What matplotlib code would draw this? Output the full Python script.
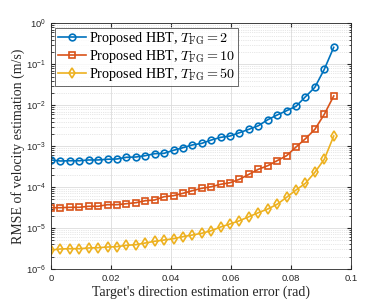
import numpy as np
import matplotlib
matplotlib.use("Agg")
import matplotlib.pyplot as plt
from matplotlib.ticker import LogLocator, NullFormatter

# ---- data ----
x_err = np.arange(31) * np.pi / 1000  # direction estimation error (rad)

rmse_fg2 = [4.6e-4, 4.34e-4, 4.4e-4, 4.4e-4, 4.6e-4, 4.6e-4, 4.78e-4, 4.86e-4,
            5.35e-4, 5.43e-4, 5.85e-4, 6.54e-4, 6.68e-4, 7.92e-4, 9.17e-4,
            1.07e-3, 1.17e-3, 1.41e-3, 1.64e-3, 1.77e-3, 2.13e-3, 2.58e-3,
            3.15e-3, 4.42e-3, 5.77e-3, 7.34e-3, 9.40e-3, 1.61e-2, 2.74e-2,
            7.53e-2, 0.259]
rmse_fg10 = [3.14e-5, 3.14e-5, 3.21e-5, 3.21e-5, 3.40e-5, 3.40e-5, 3.72e-5,
             3.72e-5, 3.93e-5, 4.16e-5, 4.65e-5, 4.84e-5, 5.83e-5, 6.17e-5,
             7.06e-5, 8.17e-5, 9.35e-5, 1.02e-4, 1.17e-4, 1.28e-4, 1.55e-4,
             2.05e-4, 2.72e-4, 3.33e-4, 4.42e-4, 5.85e-4, 9.53e-4, 1.52e-3,
             2.58e-3, 6.0e-3, 1.68e-2]
rmse_fg50 = [2.91e-6, 3.08e-6, 3.13e-6, 3.13e-6, 3.26e-6, 3.31e-6, 3.44e-6,
             3.51e-6, 3.79e-6, 3.92e-6, 4.31e-6, 4.75e-6, 5.10e-6, 5.49e-6,
             6.15e-6, 6.76e-6, 7.45e-6, 8.61e-6, 1.06e-5, 1.26e-5, 1.51e-5,
             1.89e-5, 2.37e-5, 2.92e-5, 3.80e-5, 5.64e-5, 8.50e-5, 1.24e-4,
             2.30e-4, 4.78e-4, 1.77e-3]

labels = [r'Proposed HBT, $T_{\mathrm{FG}}=2$',
          r'Proposed HBT, $T_{\mathrm{FG}}=10$',
          r'Proposed HBT, $T_{\mathrm{FG}}=50$']
series = [rmse_fg2, rmse_fg10, rmse_fg50]
colors = ['#0072BD', '#D95319', '#EDB120']
markers = ['o', 's', 'd']

xticks = [0, 0.02, 0.04, 0.06, 0.08, 0.1]
xticklabels = ['0', '0.02', '0.04', '0.06', '0.08', '0.1']

plt.rcParams['mathtext.fontset'] = 'cm'
plt.rcParams['font.family'] = ['Liberation Sans', 'DejaVu Sans']

fig = plt.figure(figsize=(3.88, 3.02), dpi=100)
ax = fig.add_axes([0.1314, 0.1093, 0.7732, 0.8135])

for y, c, m, lab in zip(series, colors, markers, labels):
    ax.plot(x_err, y, color=c, marker=m, markersize=4.8, markerfacecolor='none',
            markeredgewidth=1.2, linewidth=1.2, label=lab)

ax.set_yscale('log')
ax.set_xlim(0, 0.1)
ax.set_ylim(1e-6, 1e0)
ax.set_xticks(xticks)
ax.set_xticklabels(xticklabels)
ax.yaxis.set_major_locator(LogLocator(base=10, numticks=10))
ax.yaxis.set_minor_locator(LogLocator(base=10, subs=np.arange(2, 10), numticks=20))
ax.yaxis.set_minor_formatter(NullFormatter())

ax.grid(True, which='major', color='#dcdcdc', linewidth=0.6, linestyle='-')
ax.grid(True, which='minor', axis='y', color='#d0d0d0', linewidth=0.5, linestyle=':')
ax.set_axisbelow(True)

ax.tick_params(which='both', direction='in', top=True, right=True,
               labelsize=6.8, colors='#262626', pad=3.5)
ax.tick_params(which='major', length=3)
ax.tick_params(which='minor', length=1.8)
for s in ax.spines.values():
    s.set_color('#262626')
    s.set_linewidth(0.6)

ax.set_xlabel("Target's direction estimation error (rad)", fontfamily='Liberation Serif',
              fontsize=10, color='#262626', labelpad=2)
ax.set_ylabel("RMSE of velocity estimation (m/s)", fontfamily='Liberation Serif',
              fontsize=10, color='#262626', labelpad=1)

leg = ax.legend(loc='upper left', frameon=True, fancybox=False,
                prop={'family': 'Liberation Serif', 'size': 10.2},
                edgecolor='#262626', borderpad=0.2, labelspacing=0.05,
                handlelength=2.0, handletextpad=0.2, borderaxespad=0.3)
leg.get_frame().set_linewidth(0.6)

fig.savefig('out.png', dpi=100)
